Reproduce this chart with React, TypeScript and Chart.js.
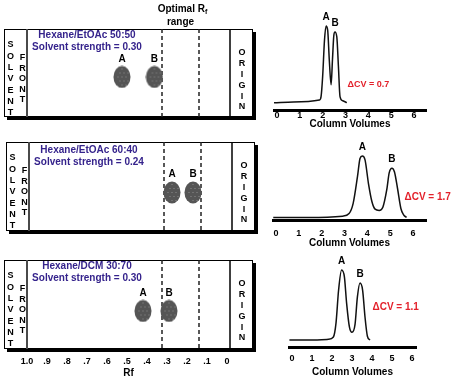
import React, { useEffect, useRef } from "react";
import { Chart, registerables } from "chart.js";

Chart.register(...registerables);

const FONT = 'Arial, "Liberation Sans", Helvetica, sans-serif';
const INK = "#000000";
const PURPLE = "#35238c";
const RED = "#e3212b";

// ---- TLC plate data ----
const rfTickValues = [1.0, 0.9, 0.8, 0.7, 0.6, 0.5, 0.4, 0.3, 0.2, 0.1, 0];
const rfTickLabels = ["1.0", ".9", ".8", ".7", ".6", ".5", ".4", ".3", ".2", ".1", "0"];
const optimalRfRange = [0.325, 0.14];
const solventFrontRf = 1.0;
const originRf = -0.015;
const solventTextRf = 0.7;

const plateSolvents = ["Hexane/EtOAc 50:50", "Hexane/EtOAc 60:40", "Hexane/DCM 30:70"];
const plateStrengths = ["Solvent strength = 0.30", "Solvent strength = 0.24", "Solvent strength = 0.30"];
const spotNames = ["A", "B"];
const plate1SpotRf = [0.525, 0.363];
const plate2SpotRf = [0.285, 0.18];
const plate3SpotRf = [0.42, 0.29];
const plateLanes = [0.455, 0.433, 0.427];

// ---- Chromatogram data (column volumes vs. detector signal) ----
const cvTicks = [0, 1, 2, 3, 4, 5, 6];

const run1CV = [-0.13, 0.72, 1.86, 1.93, 2.0, 2.08, 2.15, 2.22, 2.29, 2.37, 2.43, 2.49, 2.54, 2.62, 2.69, 2.76, 2.88, 3.06];
const run1Signal = [0.087, 0.095, 0.119, 0.159, 0.4, 0.83, 1.0, 0.95, 0.6, 0.3, 0.6, 0.89, 0.93, 0.87, 0.52, 0.16, 0.11, 0.087];
const run1PeakCV = [2.15, 2.54];
const run1PeakSignal = [1.0, 0.93];

const run2CV = [-0.12, 1.45, 2.92, 3.2, 3.38, 3.57, 3.68, 3.78, 3.9, 4.05, 4.2, 4.34, 4.52, 4.68, 4.85, 4.96, 5.08, 5.19, 5.32, 5.47, 5.59, 5.72];
const run2Signal = [0.04, 0.04, 0.06, 0.1, 0.26, 0.68, 0.96, 1.0, 0.94, 0.57, 0.29, 0.17, 0.15, 0.2, 0.47, 0.74, 0.81, 0.75, 0.5, 0.18, 0.08, 0.04];
const run2PeakCV = [3.78, 5.08];
const run2PeakSignal = [1.0, 0.81];

const run3CV = [-0.13, 0.9, 1.82, 2.07, 2.2, 2.33, 2.48, 2.62, 2.73, 2.87, 3.0, 3.15, 3.27, 3.4, 3.53, 3.65, 3.77, 3.9];
const run3Signal = [0.09, 0.09, 0.1, 0.13, 0.31, 0.74, 1.0, 0.91, 0.57, 0.26, 0.19, 0.29, 0.65, 0.83, 0.74, 0.39, 0.14, 0.09];
const run3PeakCV = [2.48, 3.4];
const run3PeakSignal = [1.0, 0.83];

const deltaCVLabels = ["\u0394CV = 0.7", "\u0394CV = 1.7", "\u0394CV = 1.1"];

function makeSpotImage(): HTMLCanvasElement {
  const c = document.createElement("canvas");
  c.width = 18;
  c.height = 23;
  const g = c.getContext("2d")!;
  g.fillStyle = "#555555";
  g.beginPath();
  g.ellipse(9, 11.5, 8.5, 11, 0, 0, Math.PI * 2);
  g.fill();
  g.fillStyle = "#8e8e8e";
  for (let yy = 3; yy < 21; yy += 4) {
    for (let xx = 3 + ((yy / 4) % 2) * 2; xx < 16; xx += 4) {
      const dx = (xx - 9) / 7;
      const dy = (yy - 11.5) / 9.5;
      if (dx * dx + dy * dy < 1) g.fillRect(xx, yy, 1, 1);
    }
  }
  return c;
}

type PlateProps = {
  index: number;
  spotsRf: number[];
  left: number;
  top: number;
  height: number;
  padTop: number;
  padBottom: number;
  textTop: number;
  showAxis: boolean;
  showOptimalLabel: boolean;
};

function TlcPlate(p: PlateProps) {
  const ref = useRef<HTMLCanvasElement | null>(null);
  useEffect(() => {
    if (!ref.current) return;
    const spot = makeSpotImage();
    const plugin = {
      id: "plate",
      beforeDatasetsDraw(chart: any) {
        const { ctx, chartArea: a, scales } = chart;
        const x = scales.x;
        const w = a.right - a.left;
        const h = a.bottom - a.top;
        ctx.save();
        ctx.fillStyle = "#000";
        ctx.fillRect(a.left + 3, a.top + 3, w, h);
        ctx.fillStyle = "#fff";
        ctx.fillRect(a.left, a.top, w, h);
        ctx.strokeStyle = "#000";
        ctx.lineWidth = 1;
        ctx.strokeRect(a.left + 0.5, a.top + 0.5, w - 1, h - 1);

        const vline = (px: number, color: string, lw: number, dash: number[]) => {
          ctx.beginPath();
          ctx.setLineDash(dash);
          ctx.strokeStyle = color;
          ctx.lineWidth = lw;
          ctx.moveTo(px, a.top);
          ctx.lineTo(px, a.bottom);
          ctx.stroke();
        };
        const fx = x.getPixelForValue(solventFrontRf);
        const ox = x.getPixelForValue(originRf);
        vline(fx, "#4a4a4a", 2, []);
        vline(ox, "#000", 1.5, []);
        optimalRfRange.forEach((rf) => vline(x.getPixelForValue(rf), "#222", 1.5, [4, 3]));
        ctx.setLineDash([]);

        // vertical words
        ctx.fillStyle = INK;
        ctx.font = `bold 9px ${FONT}`;
        ctx.textAlign = "center";
        ctx.textBaseline = "middle";
        "SOLVENT".split("").forEach((ch, i) => ctx.fillText(ch, a.left + 6.5, a.top + 16 + i * 11.3));
        "FRONT".split("").forEach((ch, i) => ctx.fillText(ch, a.left + 18.5, a.top + 29 + i * 10.5));
        "ORIGIN".split("").forEach((ch, i) => ctx.fillText(ch, (ox + a.right) / 2 + 0.5, a.top + 24 + i * 10.8));

        // solvent system text
        const tx = x.getPixelForValue(solventTextRf);
        ctx.fillStyle = PURPLE;
        ctx.font = `bold 10px ${FONT}`;
        ctx.fillText(plateSolvents[p.index], tx, a.top + p.textTop);
        ctx.fillText(plateStrengths[p.index], tx, a.top + p.textTop + 12);

        if (p.showOptimalLabel) {
          const cx = (x.getPixelForValue(optimalRfRange[0]) + x.getPixelForValue(optimalRfRange[1])) / 2;
          ctx.fillStyle = INK;
          ctx.font = `bold 10px ${FONT}`;
          const main = "Optimal R";
          const mw = ctx.measureText(main).width;
          ctx.font = `bold 7px ${FONT}`;
          const sw = ctx.measureText("f").width;
          const sx = cx - (mw + sw) / 2 + 2;
          ctx.textAlign = "left";
          ctx.textBaseline = "alphabetic";
          ctx.font = `bold 10px ${FONT}`;
          ctx.fillText(main, sx, 11.5);
          ctx.font = `bold 7px ${FONT}`;
          ctx.fillText("f", sx + mw, 13.5);
          ctx.font = `bold 10px ${FONT}`;
          ctx.textAlign = "center";
          ctx.fillText("range", cx, 24.5);
        }
        ctx.restore();
      },
      afterDatasetsDraw(chart: any) {
        const { ctx } = chart;
        const meta = chart.getDatasetMeta(0);
        ctx.save();
        ctx.fillStyle = INK;
        ctx.font = `bold 10px ${FONT}`;
        ctx.textAlign = "center";
        ctx.textBaseline = "middle";
        meta.data.forEach((el: any, i: number) => ctx.fillText(spotNames[i], el.x, el.y - 18));
        ctx.restore();
      },
    };
    const chart = new Chart(ref.current, {
      type: "scatter",
      data: {
        datasets: [
          {
            data: p.spotsRf.map((rf) => ({ x: rf, y: plateLanes[p.index] })),
            pointStyle: spot as any,
            pointRadius: 10,
            pointHoverRadius: 10,
            clip: false,
          },
        ],
      },
      options: {
        animation: false,
        responsive: false,
        events: [],
        layout: { autoPadding: false, padding: { left: 4, right: 9, top: p.padTop, bottom: p.padBottom } },
        plugins: { legend: { display: false }, tooltip: { enabled: false }, title: { display: false } },
        scales: {
          x: {
            type: "linear",
            reverse: true,
            min: -0.13,
            max: 1.115,
            display: p.showAxis,
            grid: { display: false, drawTicks: false },
            border: { display: false },
            afterBuildTicks: (s: any) => {
              s.ticks = rfTickValues.map((v) => ({ value: v }));
            },
            ticks: {
              autoSkip: false,
              maxRotation: 0,
              padding: 8,
              color: INK,
              font: { family: FONT, size: 9, weight: "bold", lineHeight: 1 },
              callback: (_v: any, i: number) => rfTickLabels[i],
            },
            title: {
              display: true,
              text: "Rf",
              color: INK,
              font: { family: FONT, size: 10, weight: "bold", lineHeight: 1 },
              padding: { top: -5.5, bottom: 0 },
            },
          },
          y: { display: false, min: 0, max: 1 },
        },
      },
      plugins: [plugin],
    } as any);
    return () => chart.destroy();
  }, []);
  return (
    <canvas
      ref={ref}
      width={262}
      height={p.height}
      style={{ position: "absolute", left: p.left, top: p.top, width: 262, height: p.height }}
    />
  );
}

type ChromProps = {
  index: number;
  cv: number[];
  signal: number[];
  peakCV: number[];
  peakSignal: number[];
  top: number;
  height: number;
  padding: { left: number; right: number; top: number; bottom: number };
  xMin: number;
  xMax: number;
  yMax: number;
  tickPad: number;
  titlePad: number;
  deltaLevel: number;
  deltaSize: number;
};

function Chromatogram(p: ChromProps) {
  const ref = useRef<HTMLCanvasElement | null>(null);
  useEffect(() => {
    if (!ref.current) return;
    const plugin = {
      id: "peaks",
      afterDatasetsDraw(chart: any) {
        const { ctx, scales } = chart;
        const x = scales.x;
        const y = scales.y;
        ctx.save();
        ctx.fillStyle = INK;
        ctx.font = `bold 10px ${FONT}`;
        ctx.textAlign = "center";
        ctx.textBaseline = "middle";
        p.peakCV.forEach((c, i) => {
          ctx.fillText(spotNames[i], x.getPixelForValue(c), y.getPixelForValue(p.peakSignal[i]) - 8.5);
        });
        ctx.fillStyle = RED;
        ctx.textAlign = "left";
        ctx.font = `bold ${p.deltaSize}px ${FONT}`;
        ctx.fillText(deltaCVLabels[p.index], x.getPixelForValue(p.peakCV[1]) + 12.5, y.getPixelForValue(p.deltaLevel));
        ctx.restore();
      },
    };
    const chart = new Chart(ref.current, {
      type: "line",
      data: {
        datasets: [
          {
            data: p.cv.map((c, i) => ({ x: c, y: p.signal[i] })),
            borderColor: "#111",
            borderWidth: 1.5,
            pointRadius: 0,
            fill: false,
            clip: false,
            cubicInterpolationMode: "monotone",
          },
        ],
      },
      options: {
        animation: false,
        responsive: false,
        events: [],
        layout: { autoPadding: false, padding: p.padding },
        plugins: { legend: { display: false }, tooltip: { enabled: false }, title: { display: false } },
        scales: {
          x: {
            type: "linear",
            min: p.xMin,
            max: p.xMax,
            grid: { display: false, drawTicks: false },
            border: { display: true, width: 3, color: "#000" },
            afterBuildTicks: (s: any) => {
              s.ticks = cvTicks.map((v) => ({ value: v }));
            },
            ticks: {
              autoSkip: false,
              maxRotation: 0,
              padding: p.tickPad,
              color: INK,
              font: { family: FONT, size: 9, weight: "bold", lineHeight: 1 },
              callback: (v: any) => String(v),
            },
            title: {
              display: true,
              text: "Column Volumes",
              color: INK,
              font: { family: FONT, size: 10, weight: "bold", lineHeight: 1 },
              padding: { top: p.titlePad, bottom: 0 },
            },
          },
          y: { display: false, min: 0, max: p.yMax },
        },
      },
      plugins: [plugin],
    } as any);
    return () => chart.destroy();
  }, []);
  return (
    <canvas
      ref={ref}
      width={201}
      height={p.height}
      style={{ position: "absolute", left: 262, top: p.top, width: 201, height: p.height }}
    />
  );
}

export default function App() {
  return (
    <div
      style={{
        position: "absolute",
        left: 0,
        top: 0,
        width: 463,
        height: 386,
        overflow: "hidden",
        background: "#fff",
      }}
    >
      <TlcPlate index={0} spotsRf={plate1SpotRf} left={0} top={0} height={124} padTop={29} padBottom={7} textTop={6.5} showAxis={false} showOptimalLabel={true} />
      <TlcPlate index={1} spotsRf={plate2SpotRf} left={2} top={130} height={106} padTop={12} padBottom={5} textTop={8.3} showAxis={false} showOptimalLabel={false} />
      <TlcPlate index={2} spotsRf={plate3SpotRf} left={0} top={250} height={136} padTop={10} padBottom={7.5} textTop={5.8} showAxis={true} showOptimalLabel={false} />

      <Chromatogram
        index={0}
        cv={run1CV}
        signal={run1Signal}
        peakCV={run1PeakCV}
        peakSignal={run1PeakSignal}
        top={0}
        height={135}
        padding={{ left: 12, right: 37, top: 9.2, bottom: 5.5 }}
        xMin={-0.131}
        xMax={6.526}
        yMax={1.2}
        tickPad={1}
        titlePad={-1.5}
        deltaLevel={0.3}
        deltaSize={9}
      />
      <Chromatogram
        index={1}
        cv={run2CV}
        signal={run2Signal}
        peakCV={run2PeakCV}
        peakSignal={run2PeakSignal}
        top={135}
        height={120}
        padding={{ left: 11, right: 37, top: 8.2, bottom: 6.7 }}
        xMin={-0.131}
        xMax={6.57}
        yMax={1.2}
        tickPad={8.8}
        titlePad={-8.3}
        deltaLevel={0.36}
        deltaSize={10}
      />
      <Chromatogram
        index={2}
        cv={run3CV}
        signal={run3Signal}
        peakCV={run3PeakCV}
        peakSignal={run3PeakSignal}
        top={255}
        height={131}
        padding={{ left: 27, right: 47, top: 7.3, bottom: 8.3 }}
        xMin={-0.15}
        xMax={6.2}
        yMax={1.1}
        tickPad={7.5}
        titlePad={-3.3}
        deltaLevel={0.52}
        deltaSize={10}
      />
    </div>
  );
}
